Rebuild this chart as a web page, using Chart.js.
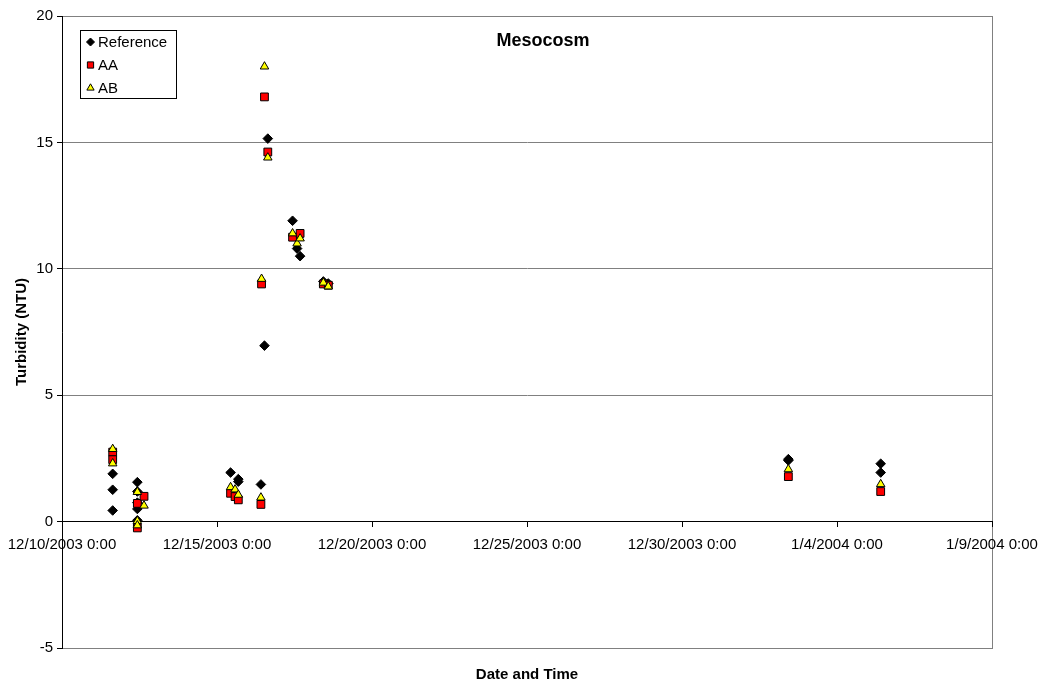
<!DOCTYPE html>
<html>
<head>
<meta charset="utf-8">
<script src="https://cdn.jsdelivr.net/npm/chart.js@4.4.1/dist/chart.umd.min.js"></script>
<style>
    html, body { margin: 0; padding: 0; background: #fff; }
    #wrap { width: 1042px; height: 686px; }
</style>
</head>
<body>
<div id="wrap"><canvas id="chart" width="1042" height="686"></canvas></div>
<script>
// Mesocosm turbidity

const xTickLabels = ['12/10/2003 0:00', '12/15/2003 0:00', '12/20/2003 0:00', '12/25/2003 0:00',
                     '12/30/2003 0:00', '1/4/2004 0:00', '1/9/2004 0:00'];
const yTicks = [-5, 0, 5, 10, 15, 20];

const refTimes = [
    '12/11/2003 15:15', '12/11/2003 15:15', '12/11/2003 15:15',
    '12/12/2003 10:20', '12/12/2003 10:20', '12/12/2003 10:20', '12/12/2003 10:20', '12/12/2003 10:20',
    '12/15/2003 10:30', '12/15/2003 16:30', '12/15/2003 16:30',
    '12/16/2003 10:00', '12/16/2003 12:45', '12/16/2003 15:20',
    '12/17/2003 10:30', '12/17/2003 14:00', '12/17/2003 16:20',
    '12/18/2003 10:20', '12/18/2003 14:10',
    '1/2/2004 10:20', '1/2/2004 10:20',
    '1/5/2004 9:50', '1/5/2004 9:50'
];
const refValues = [1.89, 1.26, 0.44, 1.56, 1.19, 0.75, 0.50, 0.05, 1.94, 1.68, 1.58,
                   1.47, 6.96, 15.15, 11.9, 10.8, 10.5, 9.5, 9.42, 2.47, 2.42, 2.29, 1.94];

const aaTimes = [
    '12/11/2003 15:15', '12/11/2003 15:15',
    '12/12/2003 10:20', '12/12/2003 10:20', '12/12/2003 15:30',
    '12/15/2003 10:30', '12/15/2003 14:00', '12/15/2003 16:30',
    '12/16/2003 10:00', '12/16/2003 10:30', '12/16/2003 12:45', '12/16/2003 15:20',
    '12/17/2003 10:30', '12/17/2003 16:20',
    '12/18/2003 10:20', '12/18/2003 14:10',
    '1/2/2004 10:20', '1/5/2004 9:50'
];
const aaValues = [2.75, 2.45, 0.72, -0.25, 1.0, 1.12, 0.99, 0.86, 0.68, 9.4, 16.8, 14.62,
                  11.25, 11.4, 9.4, 9.35, 1.78, 1.19];

const abTimes = [
    '12/11/2003 15:15', '12/11/2003 15:15',
    '12/12/2003 10:20', '12/12/2003 10:20', '12/12/2003 10:20', '12/12/2003 15:30',
    '12/15/2003 10:30', '12/15/2003 14:00', '12/15/2003 16:30',
    '12/16/2003 10:00', '12/16/2003 10:30', '12/16/2003 12:45', '12/16/2003 15:20',
    '12/17/2003 10:30', '12/17/2003 14:00', '12/17/2003 16:20',
    '12/18/2003 10:20', '12/18/2003 14:10',
    '1/2/2004 10:20', '1/5/2004 9:50'
];
const abValues = [2.87, 2.3, 1.17, 0.02, -0.15, 0.63, 1.36, 1.27, 1.06, 0.95, 9.6, 18.0, 14.4,
                  11.4, 11.0, 11.2, 9.45, 9.3, 2.07, 1.48];

// day offset from 12/10/2003 0:00
const BASE = Date.UTC(2003, 11, 10);
function toDays(s) {
    const [datePart, timePart] = s.split(' ');
    const [m, d, y] = datePart.split('/').map(Number);
    const [h, min] = timePart.split(':').map(Number);
    return (Date.UTC(y, m - 1, d, h, min) - BASE) / 86400000;
}
function points(times, values) {
    return times.map((t, i) => ({ x: toDays(t), y: values[i] }));
}
const xTickValues = xTickLabels.map(toDays);

const FONT = '"Liberation Sans", Arial, sans-serif';

// plot frame, chart title, axis titles and the boxed legend
const decorPlugin = {
    id: 'decor',
    beforeDraw(chart) {
        const { ctx, chartArea: a } = chart;
        ctx.save();
        ctx.fillStyle = '#fff';
        ctx.fillRect(0, 0, chart.width, chart.height);
        ctx.strokeStyle = '#808080';
        ctx.lineWidth = 1;
        ctx.strokeRect(Math.round(a.left) + 0.5, Math.round(a.top) + 0.5,
                       Math.round(a.right - a.left), Math.round(a.bottom - a.top));
        ctx.restore();
    },
    afterDraw(chart) {
        const { ctx, chartArea: a } = chart;
        ctx.save();
        ctx.fillStyle = '#000';
        ctx.textAlign = 'center';
        ctx.textBaseline = 'middle';

        ctx.font = 'bold 18px ' + FONT;
        ctx.fillText('Mesocosm', 543, 41);

        ctx.font = 'bold 15px ' + FONT;
        ctx.fillText('Date and Time', (a.left + a.right) / 2, 675);

        ctx.save();
        ctx.translate(22, (a.top + a.bottom) / 2);
        ctx.rotate(-Math.PI / 2);
        ctx.fillText('Turbidity (NTU)', 0, 0);
        ctx.restore();

        // legend
        ctx.strokeStyle = '#000';
        ctx.lineWidth = 1;
        ctx.strokeRect(80.5, 30.5, 96, 68);
        ctx.font = '15px ' + FONT;
        ctx.textAlign = 'left';
        const rows = [42, 65, 88];
        chart.data.datasets.forEach((ds, i) => {
            ctx.fillStyle = ds.backgroundColor;
            ctx.strokeStyle = ds.borderColor;
            ctx.lineWidth = 1;
            Chart.helpers.drawPoint(ctx, {
                pointStyle: ds.pointStyle,
                radius: ds.legendRadius,
                borderWidth: 1
            }, 90.5, rows[i]);
            ctx.fillStyle = '#000';
            ctx.fillText(ds.label, 98, rows[i] + 1);
        });
        ctx.restore();
    }
};

const ctx = document.getElementById('chart');

new Chart(ctx, {
    type: 'scatter',
    data: {
        datasets: [
            {
                label: 'Reference',
                data: points(refTimes, refValues),
                pointStyle: 'rectRot',
                pointRadius: 4.8,
                legendRadius: 4,
                backgroundColor: '#000',
                borderColor: '#000',
                borderWidth: 1,
                order: 2
            },
            {
                label: 'AA',
                data: points(aaTimes, aaValues),
                pointStyle: 'rect',
                pointRadius: 5.5,
                legendRadius: 4.4,
                backgroundColor: '#ff0000',
                borderColor: '#000',
                borderWidth: 1,
                order: 1
            },
            {
                label: 'AB',
                data: points(abTimes, abValues),
                pointStyle: 'triangle',
                pointRadius: 4.9,
                legendRadius: 4.2,
                backgroundColor: '#ffff00',
                borderColor: '#000',
                borderWidth: 1,
                order: 0
            }
        ]
    },
    options: {
        responsive: false,
        animation: false,
        devicePixelRatio: 1,
        layout: {
            padding: { top: 16, right: 50, bottom: 38, left: 0 }
        },
        plugins: {
            legend: { display: false },
            title: { display: false },
            tooltip: { enabled: false }
        },
        scales: {
            x: {
                type: 'linear',
                position: { y: 0 },
                min: xTickValues[0],
                max: xTickValues[xTickValues.length - 1],
                afterBuildTicks: scale => {
                    scale.ticks = xTickValues.map(v => ({ value: v }));
                },
                afterFit: scale => {
                    scale.height = 0;
                    scale.paddingLeft = 0;
                    scale.paddingRight = 0;
                },
                ticks: {
                    autoSkip: false,
                    maxRotation: 0,
                    padding: 9,
                    color: '#000',
                    font: { family: FONT, size: 15 },
                    callback: (value, index) => xTickLabels[index]
                },
                grid: {
                    drawOnChartArea: false,
                    drawTicks: true,
                    tickLength: 5,
                    tickColor: '#000'
                },
                border: { color: '#000', width: 1 }
            },
            y: {
                min: yTicks[0],
                max: yTicks[yTicks.length - 1],
                afterBuildTicks: scale => {
                    scale.ticks = yTicks.map(v => ({ value: v }));
                },
                afterFit: scale => {
                    scale.width = 62;
                },
                ticks: {
                    padding: 4,
                    color: '#000',
                    font: { family: FONT, size: 15 }
                },
                grid: {
                    color: c => (c.tick && c.tick.value === 0 ? '#000' : '#808080'),
                    lineWidth: 1,
                    tickLength: 5,
                    tickColor: '#000'
                },
                border: { color: '#000', width: 1 }
            }
        }
    },
    plugins: [decorPlugin]
});
</script>
</body>
</html>
